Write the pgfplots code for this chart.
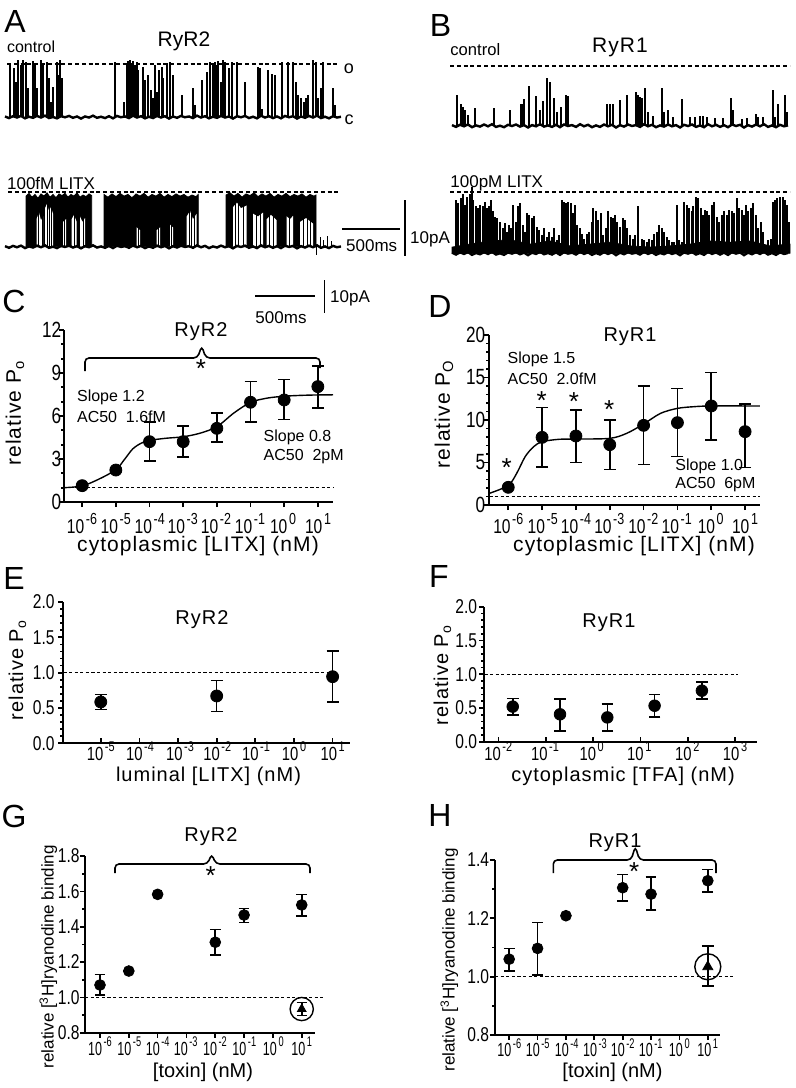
\documentclass[border=0pt]{standalone}
\usepackage{fontspec}
\setmainfont{Liberation Sans}
\newfontfamily\lsp[LetterSpace=5]{Liberation Sans}
\newfontfamily\nar[FakeStretch=0.78]{Liberation Sans}
\newfontfamily\narr[FakeStretch=0.66]{Liberation Sans}
\usepackage{pgfplots}
\usepackage{pgfplotstable}
\pgfplotsset{compat=1.18}
\newcommand{\fs}[1]{\fontsize{#1}{#1}\selectfont}
% tick label helpers (x: base-anchored "10^n", y: east-anchored number)
\newcommand{\xtk}[5]{\node[anchor=base, inner sep=0pt, font=#1] at (#2,#3) {10\hspace{0.8pt}\raisebox{0.45em}{\fs{#5}#4}};}
\newcommand{\ytk}[4]{\node[anchor=east, inner sep=0pt, font=#1] at (#2,#3) {#4};}

\pgfplotstableread{
x y
0 0.01
4 -0.02
8 0.015
12 -0.01
16 0.02
20 -0.025
24 0.005
28 -0.015
32 0.02
36 -0.01
40 0.025
44 -0.02
48 0.0
52 -0.025
56 0.015
60 -0.005
64 0.02
68 -0.015
72 0.01
76 -0.03
80 0.01
84 -0.01
88 0.025
92 -0.015
96 0.005
100 -0.02
104 0.015
108 -0.025
112 0.02
116 -0.005
120 0.01
124 -0.02
128 0.025
132 -0.01
136 0.015
140 -0.025
144 0.005
148 -0.02
152 0.02
156 -0.01
160 0.015
164 -0.03
168 0.01
172 -0.015
176 0.02
180 -0.005
184 0.01
188 -0.02
192 0.025
196 -0.01
200 0.015
204 -0.025
208 0.005
212 -0.015
216 0.02
220 -0.01
224 0.01
228 -0.03
232 0.015
236 -0.005
240 0.02
244 -0.02
248 0.005
252 -0.025
256 0.025
260 -0.01
264 0.015
268 -0.02
272 0.01
276 -0.025
280 0.02
284 -0.005
288 0.015
292 -0.03
296 0.01
300 -0.015
304 0.02
308 -0.01
312 0.025
316 -0.02
320 0.005
324 -0.025
328 0.015
332 -0.01
336 0.005
}\noise

\pgfplotsset{
  trc/.style={scale only axis, anchor=south west, width=398pt, xmin=0, xmax=796, ymin=0, ymax=1, hide axis, clip=false},
  gpax/.style={scale only axis, anchor=south west, clip=false,
    axis x line*=bottom, axis y line*=left,
    axis line style={line width=0.85pt, -},
    tick style={line width=0.85pt, black},
    tick align=outside, major tick length=2.6pt, minor tick length=1.5pt,
    xticklabels={}, yticklabels={}},
  datp/.style={black, only marks, mark size=#1,
    error bars/.cd, y dir=both, y explicit,
    error bar style={line width=0.8pt, black},
    error mark options={rotate=90, mark size=#1, line width=0.8pt, black}},
  refl/.style={black, line width=0.6pt, dash pattern=on 1.6pt off 1.2pt, mark=none},
  trref/.style={black, line width=0.8pt, dash pattern=on 2pt off 1.4pt, mark=none},
  fitc/.style={black, line width=0.7pt, smooth, tension=0.5, mark=none},
  spkc/.style={ycomb, black, line width=0.85pt, mark=none},
  basel/.style={black, line width=1.2pt, mark=none},
}

\begin{document}
\begin{tikzpicture}
\begin{scope}[x=0.5pt,y=-0.5pt]
\useasboundingbox (0,0) rectangle (796,1088);
\end{scope}

% ---------------- A1: RyR2 control
\begin{axis}[trc, at={(0pt,-58.5pt)}, height=26.5pt]
\addplot[trref] coordinates {(7,1)(340,1)};
\addplot[spkc] coordinates {(10,0.99)(14,0.92)(16,0.66)(18.3,1.08)(20.7,0.98)(23.3,1.08)(26,1.04)(28.3,0.54)(32.7,1.06)(35,0.98)(37.3,0.54)(40.7,1.08)(42.7,0.98)(46.7,1.04)(49.3,0.73)(50.7,0.28)(53.3,0.57)(56.7,1.04)(58.3,0.79)(60,1.08)(61.7,0.73)(115,1.04)(124,0.28)(126.7,0.98)(128.3,1.06)(130,1.08)(131.7,1.01)(133.3,1.06)(135,0.98)(136.7,1.04)(138.3,0.89)(142.7,0.95)(145,0.70)(148.3,0.79)(150.7,0.51)(153.3,0.35)(155,0.98)(156.7,0.47)(159.3,0.89)(161.7,0.95)(163.3,0.73)(166.7,1.01)(170,1.04)(172.7,0.79)(181.7,0.41)(192.7,0.54)(195,0.22)(201.7,0.70)(207.3,0.85)(210,1.04)(212.7,1.01)(215,1.04)(216.7,0.98)(218.3,1.06)(220.7,0.66)(222.7,1.08)(225,1.04)(229.3,0.92)(231.7,1.04)(237.3,1.04)(245,0.66)(258.3,0.95)(260,0.92)(262.3,0.16)(268.3,0.89)(271.7,0.82)(275,0.79)(281.7,1.04)(288.3,1.04)(293.3,1.04)(296,0.66)(298.3,0.41)(300.7,0.35)(304,0.28)(306,0.35)(308.3,0.41)(313.3,1.08)(316,1.04)(318.3,0.35)(320.7,0.54)(323.3,1.04)(333.3,0.54)(335,0.22)};
\addplot[basel] table[x expr=\thisrow{x}+5, y=y] {\noise};
\end{axis}

% ---------------- A2: RyR2 100 fM LITX
\begin{axis}[trc, at={(0pt,-123.35pt)}, height=27.5pt]
\addplot[trref] coordinates {(8,1)(340,1)};
\addplot[fill=black, draw=black, line width=0.4pt, mark=none] coordinates {(26,0)(26,0.92)(29,0.97)(32,0.9)(35,0.95)(38,0.88)(41,0.96)(44,0.92)(47,0.98)(50,0.9)(53,0.95)(56,0.89)(59,0.96)(62,0.93)(65,0.97)(68,0.9)(71,0.95)(74,0.92)(77,0.98)(80,0.9)(83,0.94)(86,0.91)(89,0.96)(91.7,0.93)(91.7,0)} \closedcycle;
\addplot[fill=black, draw=black, line width=0.4pt, mark=none] coordinates {(104,0)(104,0.95)(108,0.9)(112,0.96)(116,0.91)(120,0.97)(124,0.92)(128,0.95)(132,0.89)(136,0.96)(140,0.92)(144,0.97)(148,0.9)(152,0.95)(156,0.92)(160,0.97)(164,0.9)(168,0.95)(172,0.91)(176,0.96)(180,0.92)(184,0.95)(188,0.9)(192,0.94)(196,0.91)(198.3,0.95)(198.3,0)} \closedcycle;
\addplot[fill=black, draw=black, line width=0.4pt, mark=none] coordinates {(226,0)(226,0.94)(230,0.98)(234,0.92)(238,0.97)(242,0.9)(246,0.96)(250,0.93)(254,0.98)(258,0.91)(262,0.96)(266,0.92)(270,0.97)(274,0.9)(278,0.95)(282,0.92)(286,0.97)(290,0.91)(294,0.95)(298,0.92)(302,0.96)(306,0.9)(310,0.95)(314,0.92)(316,0.94)(316,0)} \closedcycle;
\addplot[fill=white, draw=none, mark=none] coordinates {(36.5,0.06)(36.5,0.5)(39,0.62)(41,0.48)(43,0.55)(43,0.06)} \closedcycle;
\addplot[fill=white, draw=none, mark=none] coordinates {(45,0.06)(45,0.7)(47,0.78)(49,0.65)(51,0.72)(53,0.6)(53,0.06)} \closedcycle;
\addplot[fill=white, draw=none, mark=none] coordinates {(63,0.06)(63,0.45)(66,0.5)(66,0.06)} \closedcycle;
\addplot[fill=white, draw=none, mark=none] coordinates {(71.7,0.06)(71.7,0.5)(74,0.58)(76.7,0.45)(76.7,0.06)} \closedcycle;
\addplot[fill=white, draw=none, mark=none] coordinates {(80,0.06)(80,0.55)(82.5,0.45)(85,0.52)(85,0.06)} \closedcycle;
\addplot[fill=white, draw=none, mark=none] coordinates {(136.7,0.06)(136.7,0.35)(140,0.3)(140,0.06)} \closedcycle;
\addplot[fill=white, draw=none, mark=none] coordinates {(156.7,0.06)(156.7,0.3)(160,0.35)(160,0.06)} \closedcycle;
\addplot[fill=white, draw=none, mark=none] coordinates {(170,0.06)(170,0.4)(173,0.35)(173,0.06)} \closedcycle;
\addplot[fill=white, draw=none, mark=none] coordinates {(186.7,0.06)(186.7,0.55)(190,0.65)(193,0.5)(196.7,0.6)(196.7,0.06)} \closedcycle;
\addplot[fill=white, draw=none, mark=none] coordinates {(233,0.06)(233,0.72)(237,0.8)(241,0.7)(246.7,0.75)(246.7,0.06)} \closedcycle;
\addplot[fill=white, draw=none, mark=none] coordinates {(253,0.06)(253,0.6)(258,0.55)(263,0.62)(263,0.06)} \closedcycle;
\addplot[fill=white, draw=none, mark=none] coordinates {(266.7,0.06)(266.7,0.5)(271,0.58)(276.7,0.48)(276.7,0.06)} \closedcycle;
\addplot[fill=white, draw=none, mark=none] coordinates {(286.7,0.06)(286.7,0.55)(290,0.5)(293,0.56)(293,0.06)} \closedcycle;
\addplot[fill=white, draw=none, mark=none] coordinates {(300,0.06)(300,0.45)(306,0.52)(313,0.42)(313,0.06)} \closedcycle;
\addplot[ycomb, black, line width=0.5pt, mark=none] coordinates {(38,0.9)(42,0.88)(47.5,0.92)(49,0.9)(51.5,0.93)(64.5,0.9)(74,0.92)(83,0.9)(138,0.92)(158,0.9)(171.5,0.93)(189,0.9)(191.5,0.92)(194,0.9)(235,0.92)(238,0.95)(243,0.9)(256,0.92)(260,0.9)(269,0.92)(273,0.9)(289.5,0.92)(303,0.9)(307,0.93)(310,0.9)(316,-0.15)(320,0.18)(323,0.12)(327,0.2)(331,0.1)};
\addplot[basel] table[x expr=\thisrow{x}+5, y=y] {\noise};
\end{axis}

% ---------------- B1: RyR1 control
\begin{axis}[trc, at={(0pt,-62.85pt)}, height=30pt]
\addplot[trref] coordinates {(450,1)(790,1)};
\addplot[spkc] coordinates {(457.3,0.52)(460.7,0.37)(462.7,0.32)(465,0.26)(468.3,0.18)(475,0.29)(494,0.30)(510,0.26)(520.7,0.36)(522.7,0.37)(524,0.44)(529.3,0.66)(536,0.50)(540,0.26)(542.7,0.41)(547.3,0.80)(550,0.73)(554,0.46)(557.3,0.23)(560.7,0.32)(566,0.51)(568.3,0.50)(606.7,0.36)(610,0.36)(613.3,0.36)(620,0.43)(626.7,0.51)(636,0.56)(638.3,0.52)(640,0.48)(641.7,0.47)(645,0.63)(648.3,0.23)(652.7,0.17)(661.7,0.63)(664,0.23)(668.3,0.26)(673.3,0.15)(681.7,0.44)(690,0.15)(695,0.15)(700,0.17)(703.3,0.17)(706.7,0.15)(715,0.13)(723.3,0.13)(730.7,0.47)(733.3,0.26)(741.7,0.12)(746.7,0.13)(756,0.19)(758.3,0.15)(763.3,0.15)(772.7,0.60)(775,0.15)(778.3,0.37)(785,0.51)(786.7,0.23)};
\addplot[basel] table[x expr=\thisrow{x}+452, y=y] {\noise};
\end{axis}

% ---------------- B2: RyR1 100 pM LITX
\begin{axis}[trc, at={(0pt,-126.65pt)}, height=30.8pt]
\addplot[trref] coordinates {(450,1)(790,1)};
\addplot[fill=black, draw=black, line width=0.4pt, mark=none] coordinates {(452,0)(452,0.1)(470,0.15)(490,0.2)(510,0.22)(530,0.15)(550,0.2)(570,0.12)(590,0.15)(610,0.18)(630,0.12)(650,0.1)(670,0.12)(690,0.15)(710,0.2)(730,0.18)(750,0.2)(770,0.12)(790,0.15)(790,0)} \closedcycle;
\addplot[ycomb, black, line width=0.9pt, mark=none] coordinates {(456.0,0.86)(458.3,0.81)(460.7,0.89)(463.3,0.96)(465.0,0.78)(467.3,0.92)(470.0,0.97)(471.7,1.08)(473.3,0.86)(476.0,0.76)(478.3,0.73)(480.0,0.78)(482.7,0.76)(485.0,0.84)(487.3,0.73)(489.3,0.77)(490.7,0.86)(492.7,0.68)(495.0,0.59)(497.3,0.57)(500.0,0.51)(502.7,0.41)(505.0,0.49)(506.7,0.35)(509.0,0.46)(511.0,0.41)(513.3,0.78)(516.0,0.51)(517.7,0.76)(520.0,0.81)(522.7,0.46)(525.0,0.35)(527.3,0.65)(529.3,0.62)(531.7,0.57)(534.0,0.60)(536.7,0.43)(539.3,0.38)(541.7,0.30)(544.0,0.41)(546.7,0.27)(549.3,0.35)(551.7,0.27)(554.0,0.41)(556.7,0.22)(559.3,0.30)(561.7,0.86)(564.0,0.84)(566.0,0.81)(568.3,0.84)(570.7,0.81)(572.7,0.65)(575.0,0.78)(577.3,0.46)(580.0,0.41)(581.7,0.32)(584.0,0.24)(586.7,0.32)(589.3,0.35)(591.7,0.51)(593.3,0.73)(596.0,0.68)(598.3,0.54)(600.7,0.65)(603.3,0.30)(606.0,0.41)(608.3,0.68)(610.7,0.59)(612.7,0.57)(615.0,0.62)(617.3,0.51)(620.0,0.43)(622.7,0.57)(625.0,0.54)(627.3,0.41)(630.0,0.30)(632.7,0.24)(635.0,0.30)(638.3,0.76)(641.7,0.24)(644.0,0.22)(646.7,0.19)(649.3,0.24)(651.7,0.22)(654.0,0.32)(656.7,0.35)(659.3,0.46)(661.7,0.41)(664.0,0.35)(666.7,0.27)(669.3,0.22)(671.7,0.19)(674.3,0.19)(676.7,0.78)(679.3,0.22)(681.7,0.19)(684.0,0.84)(686.7,0.78)(689.3,0.73)(691.7,0.68)(693.3,0.76)(696.0,0.92)(698.3,0.89)(700.7,0.73)(703.3,0.62)(705.0,0.70)(706.7,0.68)(709.3,0.62)(711.7,0.78)(714.0,0.84)(716.7,0.59)(719.3,0.51)(721.7,0.62)(724.0,0.68)(726.7,0.62)(729.3,0.70)(731.7,0.68)(734.0,0.65)(736.7,0.89)(739.3,0.73)(741.7,0.70)(744.0,0.62)(746.0,0.78)(748.3,0.68)(750.7,0.73)(753.3,0.81)(756.0,0.62)(758.3,0.41)(760.7,0.51)(763.3,0.35)(766.0,0.14)(768.3,0.22)(770.7,0.24)(772.7,0.84)(775.0,0.86)(777.3,0.89)(780.0,0.92)(782.7,0.92)(785.0,0.86)(787.3,0.78)(789.3,0.51)};
\addplot[basel] table[x expr=\thisrow{x}+452, y=y] {\noise};
\end{axis}

% ---------------- C  (x in log10 nM)
\begin{axis}[gpax, at={(32pt,-251pt)}, width=134.5pt, height=86pt,
  xmin=-6.54, xmax=1.45, ymin=0, ymax=12,
  xtick={-6,-5,-4,-3,-2,-1,0,1},
  ytick={0,3,6,9,12}, minor y tick num=2]
\addplot[refl] coordinates {(-6.54,1)(1.45,1)};
\addplot[fitc] coordinates {(-6.54,1.0)(-6,1.12)(-5.5,1.6)(-5,2.25)(-4.75,2.95)(-4.5,3.7)(-4.25,4.1)(-4,4.3)(-3.5,4.45)(-3,4.55)(-2.5,4.8)(-2,5.25)(-1.5,6.2)(-1,6.95)(-0.5,7.25)(0,7.38)(0.5,7.44)(1,7.47)(1.45,7.48)};
\addplot[mark=*, datp=3pt] coordinates {(-6,1.14) +- (0,0) (-5,2.23) +- (0,0) (-4,4.21) += (0,1.39) -= (0,1.35) (-3,4.21) += (0,1.11) -= (0,1.05) (-2,5.14) += (0,1.05) -= (0,0.94) (-1,6.96) += (0,1.44) -= (0,1.36) (0,7.12) += (0,1.44) -= (0,1.35) (1,8.05) += (0,1.44) -= (0,1.51)};
\end{axis}

% ---------------- D
\begin{axis}[gpax, at={(244.65pt,-252.5pt)}, width=135.35pt, height=85pt,
  xmin=-6.56, xmax=1.44, ymin=0, ymax=20,
  xtick={-6,-5,-4,-3,-2,-1,0,1},
  ytick={0,5,10,15,20}, minor y tick num=4]
\addplot[refl] coordinates {(-6.56,1)(1.44,1)};
\addplot[fitc] coordinates {(-6.56,1.37)(-6,2.3)(-5.75,3.73)(-5.5,5.69)(-5.25,6.86)(-5,7.45)(-4.5,7.73)(-4,7.76)(-3,7.84)(-2.5,8.43)(-2,9.53)(-1.5,10.78)(-1,11.37)(-0.5,11.57)(0,11.65)(1.44,11.65)};
\addplot[mark=*, datp=3pt] coordinates {(-6,2.08) +- (0,0) (-5,7.96) += (0,3.49) -= (0,3.46) (-4,8.12) += (0,3.06) -= (0,3.1) (-3,7.1) += (0,2.9) -= (0,2.9) (-2,9.37) += (0,4.63) -= (0,4.59) (-1,9.69) += (0,4.01) -= (0,4.0) (0,11.65) += (0,3.95) -= (0,4.0) (1,8.63) += (0,3.22) -= (0,4.23)};
\end{axis}

% ---------------- E (y axis + data)
\begin{axis}[gpax, at={(31.65pt,-371.65pt)}, width=143.35pt, height=70.65pt,
  xmin=-5.97, xmax=1.45, ymin=0, ymax=2, xtick=\empty,
  ytick={0,0.5,1,1.5,2}, minor y tick num=4]
\addplot[refl] coordinates {(-5.97,1)(1,1)};
\addplot[mark=*, datp=3pt] coordinates {(-5,0.585) += (0,0.105) -= (0,0.105) (-2,0.67) += (0,0.217) -= (0,0.217) (1,0.943) += (0,0.367) -= (0,0.358)};
\end{axis}
\begin{axis}[gpax, at={(31.65pt,-371.65pt)}, width=143.35pt, height=70.65pt,
  xmin=-5.97, xmax=1.45, ymin=0, ymax=2, hide y axis, tick align=inside,
  xtick={-5,-4,-3,-2,-1,0,1}]
\addplot[draw=none, mark=none] coordinates {(0,0)};
\end{axis}

% ---------------- F
\begin{axis}[gpax, at={(242.15pt,-370.85pt)}, width=136.2pt, height=67.5pt,
  xmin=-2.3, xmax=3.46, ymin=0, ymax=2, xtick=\empty,
  ytick={0,0.5,1,1.5,2}, minor y tick num=4]
\addplot[refl] coordinates {(-2.3,1)(3.06,1)};
\addplot[mark=*, datp=2.9pt] coordinates {(-1.699,0.52) += (0,0.12) -= (0,0.12) (-0.699,0.406) += (0,0.224) -= (0,0.243) (0.301,0.36) += (0,0.2) -= (0,0.197) (1.301,0.533) += (0,0.167) -= (0,0.163) (2.301,0.756) += (0,0.128) -= (0,0.126)};
\end{axis}
\begin{axis}[gpax, at={(242.15pt,-370.85pt)}, width=136.2pt, height=67.5pt,
  xmin=-2.3, xmax=3.46, ymin=0, ymax=2, hide y axis, tick align=inside,
  xtick={-2,-1,0,1,2,3}]
\addplot[draw=none, mark=none] coordinates {(0,0)};
\end{axis}

% ---------------- G
\begin{axis}[gpax, at={(42.5pt,-516.35pt)}, width=115pt, height=88.35pt,
  xmin=-6.52, xmax=1.46, ymin=0.8, ymax=1.8,
  xtick={-6,-5,-4,-3,-2,-1,0,1},
  ytick={0.8,1.0,1.2,1.4,1.6,1.8}, minor y tick num=1]
\addplot[refl] coordinates {(-6.52,1)(1.81,1)};
\addplot[mark=*, datp=2.7pt] coordinates {(-6,1.07) += (0,0.06) -= (0,0.057) (-5,1.149) +- (0,0) (-4,1.583) +- (0,0) (-2,1.312) += (0,0.073) -= (0,0.072) (-1,1.466) += (0,0.038) -= (0,0.043) (1,1.523) += (0,0.06) -= (0,0.061)};
\addplot[mark=triangle*, datp=2.5pt] coordinates {(1,0.934) += (0,0.037) -= (0,0.037)};
\addplot[black, only marks, mark=o, mark size=5.8pt, mark options={line width=0.7pt}] coordinates {(1,0.934)};
\end{axis}

% ---------------- H
\begin{axis}[gpax, at={(247.5pt,-517.5pt)}, width=112.5pt, height=87.5pt,
  xmin=-6.5, xmax=1.43, ymin=0.8, ymax=1.4,
  xtick={-6,-5,-4,-3,-2,-1,0,1},
  ytick={0.8,1.0,1.2,1.4}, minor y tick num=1]
\addplot[refl] coordinates {(-6.5,1)(1.96,1)};
\addplot[mark=*, datp=2.7pt] coordinates {(-6,1.06) += (0,0.037) -= (0,0.04) (-5,1.097) += (0,0.089) -= (0,0.091) (-4,1.209) +- (0,0) (-2,1.305) += (0,0.046) -= (0,0.046) (-1,1.283) += (0,0.058) -= (0,0.054) (1,1.329) += (0,0.039) -= (0,0.038)};
\addplot[mark=triangle*, datp=2.9pt] coordinates {(1,1.034) += (0,0.072) -= (0,0.066)};
\addplot[black, only marks, mark=o, mark size=6.5pt, mark options={line width=0.7pt}] coordinates {(1,1.034)};
\end{axis}

% ---------------- texts (pixel coordinates of the 796x1088 figure)
\begin{scope}[x=0.5pt,y=-0.5pt, every node/.style={inner sep=0pt}]
% tick labels C
\ytk{\nar\fs{11}}{61.5}{502}{0}\ytk{\nar\fs{11}}{61.5}{459}{3}\ytk{\nar\fs{11}}{61.5}{416}{6}\ytk{\nar\fs{11}}{61.5}{373}{9}\ytk{\nar\fs{11}}{61.5}{330}{12}
\xtk{\nar\fs{10}}{82}{533}{-6}{8}\xtk{\nar\fs{10}}{115.7}{533}{-5}{8}\xtk{\nar\fs{10}}{149.7}{533}{-4}{8}\xtk{\nar\fs{10}}{182.7}{533}{-3}{8}\xtk{\nar\fs{10}}{216}{533}{-2}{8}\xtk{\nar\fs{10}}{250}{533}{-1}{8}\xtk{\nar\fs{10}}{283}{533}{0}{8}\xtk{\nar\fs{10}}{318}{533}{1}{8}
% tick labels D
\ytk{\nar\fs{11}}{485.5}{505}{0}\ytk{\nar\fs{11}}{485.5}{462.5}{5}\ytk{\nar\fs{11}}{485.5}{420}{10}\ytk{\nar\fs{11}}{485.5}{377.5}{15}\ytk{\nar\fs{11}}{485.5}{335}{20}
\xtk{\nar\fs{10}}{508.3}{533.3}{-6}{8}\xtk{\nar\fs{10}}{542.7}{533.3}{-5}{8}\xtk{\nar\fs{10}}{576}{533.3}{-4}{8}\xtk{\nar\fs{10}}{609.3}{533.3}{-3}{8}\xtk{\nar\fs{10}}{643.3}{533.3}{-2}{8}\xtk{\nar\fs{10}}{676.7}{533.3}{-1}{8}\xtk{\nar\fs{10}}{710.7}{533.3}{0}{8}\xtk{\nar\fs{10}}{745}{533.3}{1}{8}
% tick labels E
\ytk{\nar\fs{10}}{55}{743.3}{0.0}\ytk{\nar\fs{10}}{55}{708}{0.5}\ytk{\nar\fs{10}}{55}{672.7}{1.0}\ytk{\nar\fs{10}}{55}{637.3}{1.5}\ytk{\nar\fs{10}}{55}{602}{2.0}
\xtk{\nar\fs{9.5}}{100.7}{760}{-5}{7}\xtk{\nar\fs{9.5}}{140}{760}{-4}{7}\xtk{\nar\fs{9.5}}{180}{760}{-3}{7}\xtk{\nar\fs{9.5}}{217.3}{760}{-2}{7}\xtk{\nar\fs{9.5}}{256}{760}{-1}{7}\xtk{\nar\fs{9.5}}{294}{760}{0}{7}\xtk{\nar\fs{9.5}}{332.7}{760}{1}{7}
% tick labels F
\ytk{\nar\fs{10}}{477.5}{741.7}{0.0}\ytk{\nar\fs{10}}{477.5}{708}{0.5}\ytk{\nar\fs{10}}{477.5}{674.2}{1.0}\ytk{\nar\fs{10}}{477.5}{640.5}{1.5}\ytk{\nar\fs{10}}{477.5}{606.7}{2.0}
\xtk{\nar\fs{9.5}}{498.3}{760}{-2}{7}\xtk{\nar\fs{9.5}}{545}{760}{-1}{7}\xtk{\nar\fs{9.5}}{591.7}{760}{0}{7}\xtk{\nar\fs{9.5}}{639.3}{760}{1}{7}\xtk{\nar\fs{9.5}}{687.3}{760}{2}{7}\xtk{\nar\fs{9.5}}{735}{760}{3}{7}
% tick labels G
\ytk{\nar\fs{10}}{80}{1032.7}{0.8}\ytk{\nar\fs{10}}{80}{997.4}{1.0}\ytk{\nar\fs{10}}{80}{962}{1.2}\ytk{\nar\fs{10}}{80}{926.7}{1.4}\ytk{\nar\fs{10}}{80}{891.3}{1.6}\ytk{\nar\fs{10}}{80}{856}{1.8}
\xtk{\narr\fs{9.5}}{100}{1055}{-6}{7}\xtk{\narr\fs{9.5}}{129.3}{1055}{-5}{7}\xtk{\narr\fs{9.5}}{157.7}{1055}{-4}{7}\xtk{\narr\fs{9.5}}{185.7}{1055}{-3}{7}\xtk{\narr\fs{9.5}}{215}{1055}{-2}{7}\xtk{\narr\fs{9.5}}{244.3}{1055}{-1}{7}\xtk{\narr\fs{9.5}}{273.3}{1055}{0}{7}\xtk{\narr\fs{9.5}}{301.7}{1055}{1}{7}
% tick labels H
\ytk{\nar\fs{10}}{489.5}{1035}{0.8}\ytk{\nar\fs{10}}{489.5}{976.7}{1.0}\ytk{\nar\fs{10}}{489.5}{918.3}{1.2}\ytk{\nar\fs{10}}{489.5}{860}{1.4}
\xtk{\narr\fs{9.5}}{509.3}{1056.7}{-6}{7}\xtk{\narr\fs{9.5}}{537.7}{1056.7}{-5}{7}\xtk{\narr\fs{9.5}}{566.7}{1056.7}{-4}{7}\xtk{\narr\fs{9.5}}{595}{1056.7}{-3}{7}\xtk{\narr\fs{9.5}}{622.7}{1056.7}{-2}{7}\xtk{\narr\fs{9.5}}{650.7}{1056.7}{-1}{7}\xtk{\narr\fs{9.5}}{679.3}{1056.7}{0}{7}\xtk{\narr\fs{9.5}}{707.7}{1056.7}{1}{7}
% panel letters
\node[font=\fs{16}] at (15,21.7) {A};
\node[font=\fs{16}] at (440.5,25) {B};
\node[font=\fs{16}] at (14,301) {C};
\node[font=\fs{16}] at (440,306.5) {D};
\node[font=\fs{16}] at (14,578.5) {E};
\node[font=\fs{16}] at (439,576) {F};
\node[font=\fs{16}] at (14,816) {G};
\node[font=\fs{16}] at (440,815) {H};
% traces
\node[font=\fs{8}, anchor=west] at (6.7,47) {control};
\node[font=\fs{10.5}] at (184,41) {RyR2};
\node[font=\fs{9}] at (349,68.5) {o};
\node[font=\fs{9}] at (349,120) {c};
\node[font=\fs{8.5}, anchor=west] at (6.7,183) {100fM LITX};
\node[font=\fs{8.3}, anchor=west] at (450,50) {control};
\node[font=\lsp\fs{10.5}] at (620,47) {RyR1};
\node[font=\fs{8.5}, anchor=west] at (450,183) {100pM LITX};
\draw[line width=0.8pt] (342,229) -- (400,229);
\node[font=\fs{8.5}] at (371.7,245.7) {500ms};
\draw[line width=0.8pt] (405,200) -- (405,256);
\node[font=\fs{8.5}] at (430,239) {10pA};
\draw[line width=0.8pt] (255,296) -- (315,296);
\node[font=\fs{8.5}] at (281,317.5) {500ms};
\draw[line width=0.8pt] (324.5,280) -- (324.5,313);
\node[font=\fs{8.5}] at (350,298) {10pA};
% C
\node[font=\lsp\fs{10}] at (201,331.5) {RyR2};
\draw[line width=0.8pt, rounded corners=2pt] (85,371) -- (85,358) -- (197.5,358) -- (201.7,346) -- (205.9,358) -- (320,358) -- (320,368);
\node[font=\fs{13}] at (201,368.5) {*};
\node[font=\fs{8}, anchor=west] at (76.7,397) {Slope 1.2};
\node[font=\fs{8}, anchor=west] at (76.7,417) {AC50~~1.6fM};
\node[font=\fs{8}, anchor=west] at (263.3,437) {Slope 0.8};
\node[font=\fs{8}, anchor=west] at (263.3,457) {AC50~~2pM};
\node[font=\lsp\fs{10.5}, rotate=90] at (15,413) {relative P\textsubscript{o}};
\node[font=\lsp\fs{10.5}] at (198,546) {cytoplasmic [LITX] (nM)};
% D
\node[font=\lsp\fs{10}] at (630,336.5) {RyR1};
\node[font=\fs{13}] at (506.7,468) {*};
\node[font=\fs{13}] at (541.7,400.3) {*};
\node[font=\fs{13}] at (574,401.3) {*};
\node[font=\fs{13}] at (609.3,409.7) {*};
\node[font=\fs{8}, anchor=west] at (507.3,359) {Slope 1.5};
\node[font=\fs{8}, anchor=west] at (507.3,379) {AC50~~2.0fM};
\node[font=\fs{8}, anchor=west] at (675,466) {Slope 1.0};
\node[font=\fs{8}, anchor=west] at (675,485) {AC50~~6pM};
\node[font=\lsp\fs{10.5}, rotate=90] at (444,414) {relative P\textsubscript{O}};
\node[font=\lsp\fs{10.5}] at (634,546) {cytoplasmic [LITX] (nM)};
% E
\node[font=\lsp\fs{10}] at (202,620) {RyR2};
\node[font=\lsp\fs{10}, rotate=90] at (17.5,670) {relative P\textsubscript{o}};
\node[font=\lsp\fs{10}] at (208.5,776) {luminal [LITX] (nM)};
% F
\node[font=\lsp\fs{10}] at (609,622.5) {RyR1};
\node[font=\lsp\fs{10}, rotate=90] at (442.5,675) {relative P\textsubscript{o}};
\node[font=\lsp\fs{10}] at (623,776) {cytoplasmic [TFA] (nM)};
% G
\node[font=\lsp\fs{10}] at (211,836.5) {RyR2};
\draw[line width=0.8pt, rounded corners=2pt] (115,873) -- (115,864) -- (207.5,864) -- (211.7,854) -- (215.9,864) -- (310,864) -- (310,873);
\node[font=\fs{13}] at (210.7,876) {*};
\node[font=\fs{8.5}, rotate=90] at (48.3,956.7) {relative [\textsuperscript{3}H]ryanodine binding};
\node[font=\fs{10}] at (203,1072) {[toxin] (nM)};
% H
\node[font=\lsp\fs{10}] at (615,842.5) {RyR1};
\draw[line width=0.8pt, rounded corners=2pt] (553.3,873) -- (553.3,860) -- (631.1,860) -- (635.3,846.5) -- (639.5,860) -- (716,860) -- (716,873);
\node[font=\fs{13}] at (634.3,872) {*};
\node[font=\fs{8.5}, rotate=90] at (449.3,960) {relative [\textsuperscript{3}H]ryanodine binding};
\node[font=\fs{10}] at (612.5,1072) {[toxin] (nM)};
\end{scope}
\end{tikzpicture}
\end{document}
